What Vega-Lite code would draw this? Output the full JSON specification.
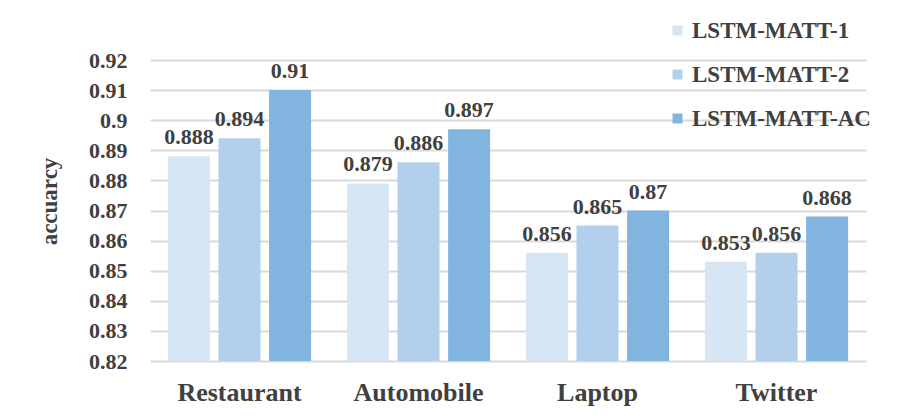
{
  "$schema": "https://vega.github.io/schema/vega-lite/v6.json",
  "width": 716,
  "height": 301,
  "autosize": {"type": "none"},
  "padding": {"left": 150, "top": 60, "right": 33, "bottom": 59},
  "background": "white",
  "config": {
    "view": {"stroke": null},
    "font": "Liberation Serif"
  },
  "data": {
    "values": [
      {"dataset": "Restaurant", "model": "LSTM-MATT-1", "accuracy": 0.888},
      {"dataset": "Restaurant", "model": "LSTM-MATT-2", "accuracy": 0.894},
      {"dataset": "Restaurant", "model": "LSTM-MATT-AC", "accuracy": 0.91},
      {"dataset": "Automobile", "model": "LSTM-MATT-1", "accuracy": 0.879},
      {"dataset": "Automobile", "model": "LSTM-MATT-2", "accuracy": 0.886},
      {"dataset": "Automobile", "model": "LSTM-MATT-AC", "accuracy": 0.897},
      {"dataset": "Laptop", "model": "LSTM-MATT-1", "accuracy": 0.856},
      {"dataset": "Laptop", "model": "LSTM-MATT-2", "accuracy": 0.865},
      {"dataset": "Laptop", "model": "LSTM-MATT-AC", "accuracy": 0.87},
      {"dataset": "Twitter", "model": "LSTM-MATT-1", "accuracy": 0.853},
      {"dataset": "Twitter", "model": "LSTM-MATT-2", "accuracy": 0.856},
      {"dataset": "Twitter", "model": "LSTM-MATT-AC", "accuracy": 0.868}
    ]
  },
  "encoding": {
    "x": {
      "field": "dataset", "type": "nominal", "sort": null,
      "scale": {"paddingInner": 0.2, "paddingOuter": 0.1},
      "axis": {"title": null, "labelAngle": 0, "labelFont": "Liberation Serif", "labelFontWeight": "bold", "labelColor": "#404040", "labelFontSize": 26, "labelPadding": 18, "ticks": false, "domain": false, "grid": false}
    },
    "xOffset": {"field": "model", "type": "nominal", "sort": null, "scale": {"paddingInner": 0.17, "paddingOuter": 0}},
    "y": {
      "field": "accuracy", "type": "quantitative",
      "scale": {"domain": [0.82, 0.92], "zero": false, "nice": false},
      "axis": {
        "title": "accuarcy", "titleFont": "Liberation Serif", "titleFontWeight": "bold", "titleColor": "#404040", "titleFontSize": 23, "titleX": -101, "titleY": 141, "titleAngle": -90, "titleAlign": "center", "titleBaseline": "middle",
        "values": [0.82, 0.83, 0.84, 0.85, 0.86, 0.87, 0.88, 0.89, 0.9, 0.91, 0.92],
        "format": ".2~f", "labelFont": "Liberation Serif", "labelFontWeight": "bold", "labelColor": "#404040", "labelFontSize": 22, "labelPadding": 23, "ticks": false, "domain": false,
        "grid": true, "gridColor": "#d9d9d9", "gridWidth": 2
      }
    }
  },
  "layer": [
    {
      "mark": {"type": "bar", "clip": true},
      "encoding": {
        "y2": {"datum": 0.82},
        "color": {
          "field": "model", "type": "nominal",
          "scale": {"domain": ["LSTM-MATT-1", "LSTM-MATT-2", "LSTM-MATT-AC"], "range": ["#d6e6f5", "#b2d0ec", "#82b4e0"]},
          "legend": {"title": null, "orient": "none", "legendX": 516, "legendY": -41, "labelFont": "Liberation Serif", "labelFontWeight": "bold", "labelColor": "#404040", "labelFontSize": 23, "labelLimit": 400, "symbolType": "square", "symbolSize": 100, "rowPadding": 20, "labelOffset": 3, "symbolStrokeWidth": 0}
        }
      }
    },
    {
      "mark": {"type": "text", "baseline": "alphabetic", "dy": -12, "font": "Liberation Serif", "fontSize": 22, "fontWeight": "bold", "color": "#404040"},
      "encoding": {"text": {"field": "accuracy", "type": "quantitative", "format": ".3~f"}}
    }
  ]
}
